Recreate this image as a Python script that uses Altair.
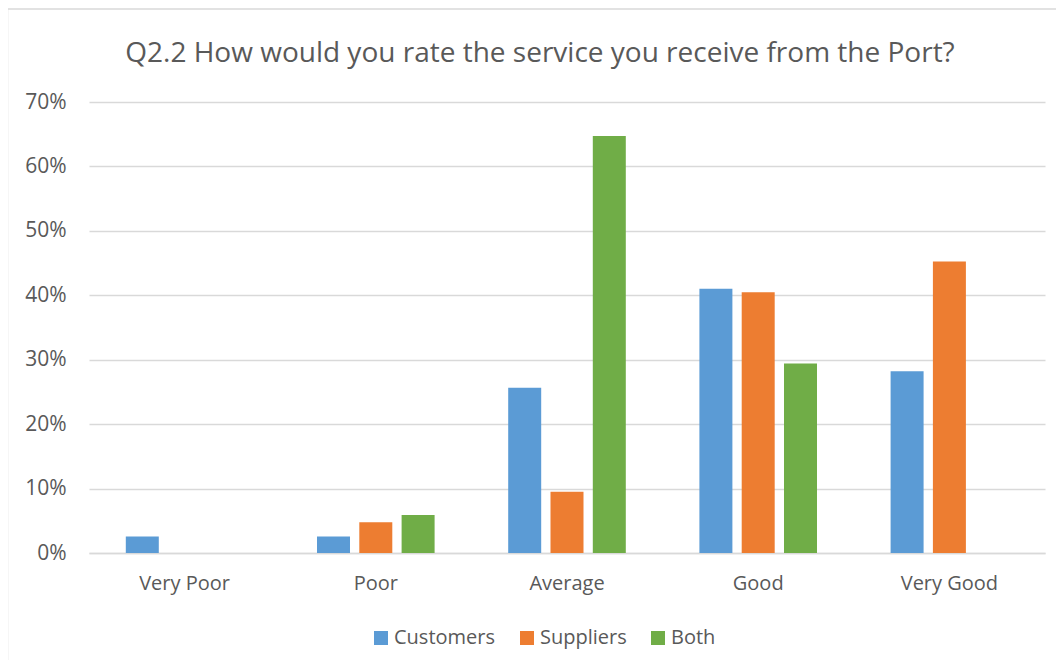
import altair as alt
import pandas as pd

categories = ["Very Poor", "Poor", "Average", "Good", "Very Good"]
series = ["Customers", "Suppliers", "Both"]
customers = [0.0256, 0.0256, 0.2564, 0.4103, 0.2821]
suppliers = [0.0, 0.0476, 0.0952, 0.4048, 0.4524]
both = [0.0, 0.0588, 0.6471, 0.2941, 0.0]
colors = ["#5B9BD5", "#ED7D31", "#70AD47"]
y_ticks = [0, 0.1, 0.2, 0.3, 0.4, 0.5, 0.6, 0.7]

rows = []
for name, vals in zip(series, [customers, suppliers, both]):
    for c, v in zip(categories, vals):
        rows.append({"category": c, "series": name, "value": v})
df = pd.DataFrame(rows)

W, H = 956, 451
FONT = "Open Sans"
TXT = "#595959"

frame = alt.Chart(pd.DataFrame({"a": [0]})).mark_rect(
    fill="transparent", stroke="#d9d9d9", strokeWidth=1.5
).encode(
    x=alt.value(-81.5), x2=alt.value(W + 100),
    y=alt.value(-93), y2=alt.value(H + 200)
)

bars = alt.Chart(df).mark_bar().encode(
    x=alt.X("category:N", sort=categories,
            scale=alt.Scale(paddingInner=0, paddingOuter=0),
            axis=alt.Axis(title=None, labelAngle=0, labelFont=FONT, labelFontSize=20,
                          labelColor=TXT, ticks=False, labelPadding=20,
                          domainColor="#d9d9d9", domainWidth=1.5)),
    xOffset=alt.XOffset("series:N", sort=series,
                        scale=alt.Scale(paddingInner=0.22, paddingOuter=0.87)),
    y=alt.Y("value:Q", scale=alt.Scale(domain=[0, 0.7], nice=False),
            axis=alt.Axis(title=None, format=".0%", values=y_ticks, labelFont=FONT,
                          labelFontSize=21, labelColor=TXT, ticks=False, domain=False,
                          labelPadding=23, gridColor="#d9d9d9", gridWidth=1.5)),
    color=alt.Color("series:N", sort=series,
                    scale=alt.Scale(domain=series, range=colors),
                    legend=alt.Legend(title=None, orient="none", direction="horizontal",
                                      legendX=282, legendY=526, symbolType="square",
                                      symbolSize=196, symbolStrokeWidth=0,
                                      labelFont=FONT, labelFontSize=20, labelColor=TXT,
                                      labelOffset=3, columnPadding=21, padding=0)),
)

chart = alt.layer(frame, bars).properties(
    width=W, height=H,
    title=alt.Title("Q2.2 How would you rate the service you receive from the Port?",
                    font=FONT, fontSize=28, fontWeight="normal", color=TXT,
                    anchor="middle", dx=-27, offset=-60),
    autosize=alt.AutoSizeParams(type="none"),
    padding={"left": 81, "top": 94, "right": 11, "bottom": 107},
).configure_view(stroke=None)

chart.save("out.html", embed_options={"renderer": "svg", "actions": False})
